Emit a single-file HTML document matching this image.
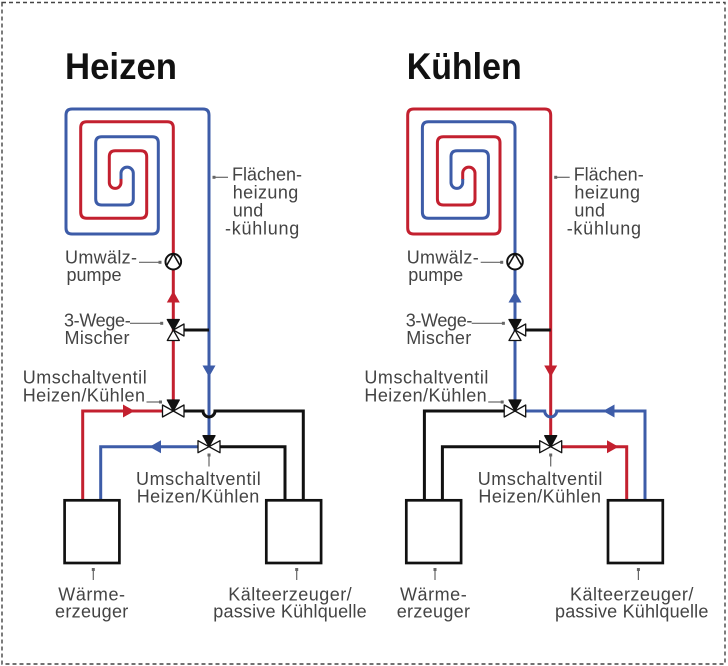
<!DOCTYPE html>
<html>
<head>
<meta charset="utf-8">
<style>
  html,body{margin:0;padding:0;background:#fff;}
  svg{display:block;}
  .lbl{font-family:"Liberation Sans",sans-serif;font-size:18px;fill:#444;}
  .ttl{font-family:"Liberation Sans",sans-serif;font-size:37px;font-weight:bold;fill:#111;}
  .pipe{fill:none;stroke-width:3;stroke-linejoin:round;}
  .red{stroke:#c3202f;}
  .blue{stroke:#3d5ca8;}
  .blk{stroke:#111;}
  .ldr{stroke:#666;stroke-width:1.2;fill:none;}
  .dot{fill:#666;}
  .vb{fill:#111;stroke:#111;stroke-width:1.3;stroke-linejoin:round;}
  .vw{fill:#fff;stroke:#111;stroke-width:1.3;stroke-linejoin:round;}
  .box{fill:#fff;stroke:#111;stroke-width:2.7;}
</style>
</head>
<body>
<svg width="728" height="666" viewBox="0 0 728 666" xmlns="http://www.w3.org/2000/svg">
  <!-- dashed frame -->
  <rect x="2" y="2.5" width="723" height="661.5" fill="none" stroke="#444" stroke-width="1.4" stroke-dasharray="4,3"/>

  <!-- titles -->
  <text class="ttl" x="65" y="79" textLength="112" lengthAdjust="spacingAndGlyphs">Heizen</text>
  <text class="ttl" x="406.7" y="79" textLength="115" lengthAdjust="spacingAndGlyphs">Kühlen</text>

  <!-- ================= LEFT: HEIZEN ================= -->
  <g>
    <path class="pipe blue" d="M209,446 L209,115 Q209,109 203,109 L72,109 Q66,109 66,115 L66,228 Q66,234 72,234 L152.3,234 Q158.3,234 158.3,228 L158.3,142.7 Q158.3,136.7 152.3,136.7 L101.7,136.7 Q95.7,136.7 95.7,142.7 L95.7,199 Q95.7,205 101.7,205 L127.3,205 Q133.3,205 133.3,199 L133.3,173.3 A6.15,6.15 0 0 0 121,173.3 L121,180"/>
    <path class="pipe red" d="M121,179 L121,182.5 A5.85,5.85 0 0 1 109.3,182.5 L109.3,156.7 Q109.3,150.7 115.3,150.7 L140.7,150.7 Q146.7,150.7 146.7,156.7 L146.7,212.3 Q146.7,218.3 140.7,218.3 L86.7,218.3 Q80.7,218.3 80.7,212.3 L80.7,127.7 Q80.7,121.7 86.7,121.7 L167.3,121.7 Q173.3,121.7 173.3,127.7 L173.3,411"/>

    <path class="pipe blk" d="M180,330 L209,330"/>
    <path class="pipe red" style="stroke-linejoin:miter" d="M170,411 L82.7,411 L82.7,500"/>
    <path class="pipe blk" style="stroke-linejoin:miter" d="M178,411 L203,411 A6,6 0 0 0 215,411 L303.3,411 L303.3,500"/>
    <path class="pipe blue" style="stroke-linejoin:miter" d="M205,446.7 L100.7,446.7 L100.7,500"/>
    <path class="pipe blk" style="stroke-linejoin:miter" d="M213,446.7 L285,446.7 L285,500"/>

    <polygon fill="#c3202f" points="173.3,291 166.8,302.5 179.8,302.5"/>
    <polygon fill="#3d5ca8" points="209,377 202.5,365.5 215.5,365.5"/>
    <polygon fill="#c3202f" points="134.5,411 123,404.5 123,417.5"/>
    <polygon fill="#3d5ca8" points="149.5,446.7 161,440.2 161,453.2"/>

    <circle cx="173.3" cy="261.7" r="7.8" fill="#fff" stroke="#111" stroke-width="2"/>
    <path d="M166.6,265.5 L173.3,253.9 L180,265.5" fill="none" stroke="#111" stroke-width="1.6"/>

    <polygon class="vw" points="167.3,340.5 179.3,340.5 173.3,330"/>
    <polygon class="vw" points="184,324 184,336 173.3,330"/>
    <polygon class="vb" points="167.3,319.5 179.3,319.5 173.3,330"/>

    <polygon class="vw" points="162.5,405 162.5,417 173.3,411"/>
    <polygon class="vw" points="184,405 184,417 173.3,411"/>
    <polygon class="vb" points="167.3,400 179.3,400 173.3,411"/>

    <polygon class="vw" points="198,440.7 198,452.7 209,446.7"/>
    <polygon class="vw" points="220,440.7 220,452.7 209,446.7"/>
    <polygon class="vb" points="203,435.7 215,435.7 209,446.7"/>

    <rect class="box" x="64.6" y="500.3" width="54.8" height="62.7"/>
    <rect class="box" x="266.3" y="500.3" width="54.8" height="62.7"/>

    <path class="ldr" d="M214,177.3 L228,177.3"/><rect class="dot" x="212.5" y="175.8" width="3" height="3"/>
    <path class="ldr" d="M139,262.3 L160,262.3"/><rect class="dot" x="158.5" y="260.8" width="3" height="3"/>
    <path class="ldr" d="M130,323.3 L161.7,323.3"/><rect class="dot" x="160.2" y="321.8" width="3" height="3"/>
    <path class="ldr" d="M146.5,402 L160.5,402"/><rect class="dot" x="159" y="400.5" width="3" height="3"/>
    <path class="ldr" d="M209,455 L209,466.5"/><rect class="dot" x="207.5" y="453.5" width="3" height="3"/>
    <path class="ldr" d="M93.3,569.5 L93.3,580"/><rect class="dot" x="91.8" y="568" width="3" height="3"/>
    <path class="ldr" d="M296.7,569.5 L296.7,580"/><rect class="dot" x="295.2" y="568" width="3" height="3"/>

    <text class="lbl" x="232" y="180.7" textLength="70">Flächen-</text>
    <text class="lbl" x="232.7" y="198.7" textLength="65.6">heizung</text>
    <text class="lbl" x="232.7" y="216.5" textLength="30.6">und</text>
    <text class="lbl" x="225" y="234.5" textLength="74.3">-kühlung</text>

    <text class="lbl" x="65" y="263.3" textLength="72">Umwälz-</text>
    <text class="lbl" x="66.5" y="281" textLength="55">pumpe</text>

    <text class="lbl" x="64" y="326.7" textLength="66.7">3-Wege-</text>
    <text class="lbl" x="64.5" y="344" textLength="65">Mischer</text>

    <text class="lbl" x="22.7" y="383.3" textLength="124">Umschaltventil</text>
    <text class="lbl" x="22.7" y="401.7" textLength="122.3">Heizen/Kühlen</text>

    <text class="lbl" x="136" y="485" textLength="124.7">Umschaltventil</text>
    <text class="lbl" x="136.7" y="502.7" textLength="122.6">Heizen/Kühlen</text>

    <text class="lbl" x="58.3" y="600.7" textLength="66.7">Wärme-</text>
    <text class="lbl" x="55" y="617.7" textLength="73.3">erzeuger</text>

    <text class="lbl" x="228.3" y="600.7" textLength="123.4">Kälteerzeuger/</text>
    <text class="lbl" x="213.3" y="617.7" textLength="153.4">passive Kühlquelle</text>
  </g>

  <!-- ================= RIGHT: KÜHLEN ================= -->
  <g transform="translate(341.7,0)">
    <path class="pipe red" d="M209,446 L209,115 Q209,109 203,109 L72,109 Q66,109 66,115 L66,228 Q66,234 72,234 L152.3,234 Q158.3,234 158.3,228 L158.3,142.7 Q158.3,136.7 152.3,136.7 L101.7,136.7 Q95.7,136.7 95.7,142.7 L95.7,199 Q95.7,205 101.7,205 L127.3,205 Q133.3,205 133.3,199 L133.3,173.3 A6.15,6.15 0 0 0 121,173.3 L121,180"/>
    <path class="pipe blue" d="M121,179 L121,182.5 A5.85,5.85 0 0 1 109.3,182.5 L109.3,156.7 Q109.3,150.7 115.3,150.7 L140.7,150.7 Q146.7,150.7 146.7,156.7 L146.7,212.3 Q146.7,218.3 140.7,218.3 L86.7,218.3 Q80.7,218.3 80.7,212.3 L80.7,127.7 Q80.7,121.7 86.7,121.7 L167.3,121.7 Q173.3,121.7 173.3,127.7 L173.3,411"/>

    <path class="pipe blk" d="M180,330 L209,330"/>
    <path class="pipe blk" style="stroke-linejoin:miter" d="M170,411 L82.7,411 L82.7,500"/>
    <path class="pipe blue" style="stroke-linejoin:miter" d="M178,411 L203,411 A6,6 0 0 0 215,411 L303.3,411 L303.3,500"/>
    <path class="pipe blk" style="stroke-linejoin:miter" d="M205,446.7 L100.7,446.7 L100.7,500"/>
    <path class="pipe red" style="stroke-linejoin:miter" d="M213,446.7 L285,446.7 L285,500"/>

    <polygon fill="#3d5ca8" points="173.3,291 166.8,302.5 179.8,302.5"/>
    <polygon fill="#c3202f" points="209,377 202.5,365.5 215.5,365.5"/>
    <polygon fill="#3d5ca8" points="261.3,411 272.8,404.5 272.8,417.5"/>
    <polygon fill="#c3202f" points="276.8,446.7 265.3,440.2 265.3,453.2"/>

    <circle cx="173.3" cy="261.7" r="7.8" fill="#fff" stroke="#111" stroke-width="2"/>
    <path d="M166.6,265.5 L173.3,253.9 L180,265.5" fill="none" stroke="#111" stroke-width="1.6"/>

    <polygon class="vw" points="167.3,340.5 179.3,340.5 173.3,330"/>
    <polygon class="vw" points="184,324 184,336 173.3,330"/>
    <polygon class="vb" points="167.3,319.5 179.3,319.5 173.3,330"/>

    <polygon class="vw" points="162.5,405 162.5,417 173.3,411"/>
    <polygon class="vw" points="184,405 184,417 173.3,411"/>
    <polygon class="vb" points="167.3,400 179.3,400 173.3,411"/>

    <polygon class="vw" points="198,440.7 198,452.7 209,446.7"/>
    <polygon class="vw" points="220,440.7 220,452.7 209,446.7"/>
    <polygon class="vb" points="203,435.7 215,435.7 209,446.7"/>

    <rect class="box" x="64.6" y="500.3" width="54.8" height="62.7"/>
    <rect class="box" x="266.3" y="500.3" width="54.8" height="62.7"/>

    <path class="ldr" d="M214,177.3 L228,177.3"/><rect class="dot" x="212.5" y="175.8" width="3" height="3"/>
    <path class="ldr" d="M139,262.3 L160,262.3"/><rect class="dot" x="158.5" y="260.8" width="3" height="3"/>
    <path class="ldr" d="M130,323.3 L161.7,323.3"/><rect class="dot" x="160.2" y="321.8" width="3" height="3"/>
    <path class="ldr" d="M146.5,402 L160.5,402"/><rect class="dot" x="159" y="400.5" width="3" height="3"/>
    <path class="ldr" d="M209,455 L209,466.5"/><rect class="dot" x="207.5" y="453.5" width="3" height="3"/>
    <path class="ldr" d="M93.3,569.5 L93.3,580"/><rect class="dot" x="91.8" y="568" width="3" height="3"/>
    <path class="ldr" d="M296.7,569.5 L296.7,580"/><rect class="dot" x="295.2" y="568" width="3" height="3"/>

    <text class="lbl" x="232" y="180.7" textLength="70">Flächen-</text>
    <text class="lbl" x="232.7" y="198.7" textLength="65.6">heizung</text>
    <text class="lbl" x="232.7" y="216.5" textLength="30.6">und</text>
    <text class="lbl" x="225" y="234.5" textLength="74.3">-kühlung</text>

    <text class="lbl" x="65" y="263.3" textLength="72">Umwälz-</text>
    <text class="lbl" x="66.5" y="281" textLength="55">pumpe</text>

    <text class="lbl" x="64" y="326.7" textLength="66.7">3-Wege-</text>
    <text class="lbl" x="64.5" y="344" textLength="65">Mischer</text>

    <text class="lbl" x="22.7" y="383.3" textLength="124">Umschaltventil</text>
    <text class="lbl" x="22.7" y="401.7" textLength="122.3">Heizen/Kühlen</text>

    <text class="lbl" x="136" y="485" textLength="124.7">Umschaltventil</text>
    <text class="lbl" x="136.7" y="502.7" textLength="122.6">Heizen/Kühlen</text>

    <text class="lbl" x="58.3" y="600.7" textLength="66.7">Wärme-</text>
    <text class="lbl" x="55" y="617.7" textLength="73.3">erzeuger</text>

    <text class="lbl" x="228.3" y="600.7" textLength="123.4">Kälteerzeuger/</text>
    <text class="lbl" x="213.3" y="617.7" textLength="153.4">passive Kühlquelle</text>
  </g>
</svg>
</body>
</html>
